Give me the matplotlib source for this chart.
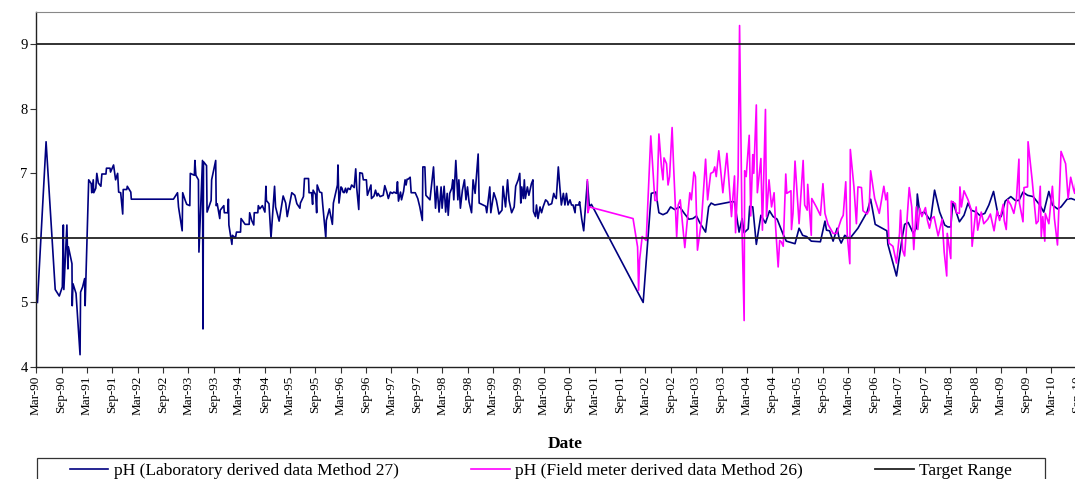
import numpy as np
import matplotlib
matplotlib.use("Agg")
import matplotlib.pyplot as plt
import matplotlib.dates as mdates
from matplotlib.patches import Rectangle
from datetime import datetime, timedelta

plt.rcParams['font.family'] = ['Liberation Serif', 'DejaVu Serif']

# sample dates as decimal years, pH values
lab_years = [
    1990.19, 1990.36, 1990.54, 1990.62, 1990.68, 1990.70, 1990.71, 1990.77, 1990.79, 1990.80,
    1990.87, 1990.875, 1990.89, 1990.95, 1991.03, 1991.04, 1991.08, 1991.12, 1991.13, 1991.20,
    1991.25, 1991.26, 1991.29, 1991.30, 1991.34, 1991.36, 1991.39, 1991.44, 1991.46, 1991.54,
    1991.55, 1991.62, 1991.63, 1991.69, 1991.73, 1991.77, 1991.79, 1991.83, 1991.87, 1991.88,
    1991.95, 1991.96, 1992.03, 1992.04, 1992.87, 1992.95, 1992.97, 1993.04, 1993.05, 1993.10,
    1993.13, 1993.19, 1993.20, 1993.28, 1993.29, 1993.31, 1993.36, 1993.37, 1993.44, 1993.45,
    1993.46, 1993.52, 1993.53, 1993.61, 1993.62, 1993.70, 1993.71, 1993.73, 1993.78, 1993.79,
    1993.86, 1993.87, 1993.94, 1993.95, 1993.96, 1994.02, 1994.03, 1994.09, 1994.11, 1994.19,
    1994.20, 1994.28, 1994.36, 1994.37, 1994.41, 1994.45, 1994.46, 1994.53, 1994.54, 1994.57,
    1994.62, 1994.67, 1994.69, 1994.70, 1994.75, 1994.79, 1994.86, 1994.88, 1994.95, 1995.03,
    1995.08, 1995.11, 1995.20, 1995.26, 1995.30, 1995.36, 1995.37, 1995.43, 1995.45, 1995.53,
    1995.54, 1995.59, 1995.61, 1995.62, 1995.67, 1995.69, 1995.70, 1995.75, 1995.79, 1995.81,
    1995.87, 1995.88, 1995.94, 1996.00, 1996.02, 1996.10, 1996.11, 1996.13, 1996.17, 1996.19,
    1996.21, 1996.23, 1996.26, 1996.28, 1996.31, 1996.35, 1996.38, 1996.43, 1996.46, 1996.48,
    1996.52, 1996.54, 1996.59, 1996.61, 1996.67, 1996.69, 1996.76, 1996.77, 1996.82, 1996.85,
    1996.88, 1996.90, 1996.94, 1997.00, 1997.03, 1997.07, 1997.10, 1997.14, 1997.18, 1997.21,
    1997.26, 1997.28, 1997.30, 1997.34, 1997.36, 1997.40, 1997.43, 1997.45, 1997.47, 1997.49,
    1997.53, 1997.55, 1997.63, 1997.68, 1997.72, 1997.77, 1997.78, 1997.82, 1997.84, 1997.92,
    1997.99, 1998.03, 1998.06, 1998.10, 1998.14, 1998.16, 1998.20, 1998.23, 1998.26, 1998.28,
    1998.31, 1998.35, 1998.37, 1998.39, 1998.43, 1998.47, 1998.49, 1998.52, 1998.56, 1998.60,
    1998.63, 1998.66, 1998.69, 1998.74, 1998.77, 1998.81, 1998.87, 1998.89, 1998.97, 1999.02,
    1999.04, 1999.08, 1999.10, 1999.12, 1999.18, 1999.23, 1999.28, 1999.34, 1999.36, 1999.41,
    1999.45, 1999.48, 1999.53, 1999.58, 1999.61, 1999.66, 1999.69, 1999.71, 1999.73, 1999.76,
    1999.78, 1999.80, 1999.84, 1999.87, 1999.92, 1999.95, 1999.96, 2000.00, 2000.02, 2000.05,
    2000.09, 2000.12, 2000.15, 2000.20, 2000.24, 2000.26, 2000.32, 2000.36, 2000.38, 2000.41,
    2000.45, 2000.48, 2000.51, 2000.55, 2000.58, 2000.61, 2000.64, 2000.68, 2000.71, 2000.74,
    2000.78, 2000.79, 2000.85, 2000.87, 2000.91, 2000.95, 2001.02, 2001.06, 2001.10, 2002.12,
    2002.28, 2002.37, 2002.43, 2002.51, 2002.59, 2002.66, 2002.74, 2002.84, 2002.93, 2003.02,
    2003.10, 2003.17, 2003.24, 2003.35, 2003.41, 2003.46, 2003.53, 2003.86, 2003.92, 2004.01,
    2004.07, 2004.11, 2004.19, 2004.22, 2004.28, 2004.35, 2004.44, 2004.53, 2004.61, 2004.68,
    2004.76, 2004.87, 2004.94, 2005.11, 2005.19, 2005.26, 2005.34, 2005.43, 2005.61, 2005.70,
    2005.73, 2005.79, 2005.86, 2005.94, 2005.98, 2006.02, 2006.09, 2006.19, 2006.35, 2006.53,
    2006.60, 2006.69, 2006.92, 2006.94, 2007.11, 2007.23, 2007.27, 2007.34, 2007.44, 2007.50,
    2007.52, 2007.57, 2007.66, 2007.78, 2007.86, 2007.96, 2008.06, 2008.12, 2008.18, 2008.22,
    2008.35, 2008.44, 2008.52, 2008.58, 2008.68, 2008.75, 2008.85, 2008.93, 2009.02, 2009.11,
    2009.17, 2009.25, 2009.36, 2009.45, 2009.52, 2009.60, 2009.69, 2009.80, 2009.93, 2010.01,
    2010.11, 2010.18, 2010.28, 2010.35, 2010.47, 2010.55, 2010.62, 2010.70,
]
lab_ph = [
    5.00, 7.49, 5.20, 5.10, 5.24, 6.20, 5.20, 6.20, 5.52, 5.86,
    5.60, 4.95, 5.29, 5.14, 4.19, 5.16, 5.24, 5.37, 4.95, 6.90,
    6.84, 6.70, 6.90, 6.70, 6.77, 7.00, 6.85, 6.80, 6.99, 6.99,
    7.08, 7.08, 7.02, 7.13, 6.90, 7.00, 6.71, 6.70, 6.37, 6.75,
    6.75, 6.80, 6.71, 6.60, 6.60, 6.70, 6.48, 6.11, 6.70, 6.58,
    6.52, 6.50, 7.00, 6.97, 7.20, 6.97, 6.90, 5.78, 7.20, 4.59,
    7.18, 7.12, 6.40, 6.58, 6.90, 7.20, 6.50, 6.53, 6.30, 6.43,
    6.50, 6.39, 6.39, 6.60, 6.20, 5.90, 6.04, 6.00, 6.09, 6.09,
    6.30, 6.21, 6.21, 6.39, 6.27, 6.20, 6.39, 6.39, 6.50, 6.45,
    6.50, 6.40, 6.80, 6.58, 6.53, 6.00, 6.80, 6.48, 6.26, 6.65,
    6.54, 6.33, 6.70, 6.66, 6.53, 6.46, 6.54, 6.64, 6.92, 6.92,
    6.70, 6.70, 6.52, 6.74, 6.67, 6.39, 6.82, 6.71, 6.70, 6.51,
    6.00, 6.27, 6.45, 6.21, 6.54, 6.82, 7.13, 6.54, 6.79, 6.77,
    6.71, 6.70, 6.77, 6.70, 6.77, 6.75, 6.82, 6.78, 7.07, 6.77,
    6.44, 7.01, 7.00, 6.90, 6.90, 6.66, 6.82, 6.61, 6.65, 6.74,
    6.65, 6.69, 6.64, 6.66, 6.81, 6.71, 6.61, 6.71, 6.69, 6.71,
    6.69, 6.87, 6.57, 6.71, 6.59, 6.72, 6.90, 6.82, 6.91, 6.91,
    6.94, 6.70, 6.70, 6.61, 6.48, 6.27, 7.10, 7.10, 6.66, 6.59,
    7.10, 6.46, 6.80, 6.40, 6.79, 6.46, 6.80, 6.40, 6.69, 6.35,
    6.69, 6.77, 6.90, 6.59, 7.20, 6.59, 6.90, 6.46, 6.74, 6.90,
    6.59, 6.79, 6.56, 6.39, 6.90, 6.69, 7.30, 6.54, 6.51, 6.49,
    6.39, 6.66, 6.79, 6.39, 6.70, 6.58, 6.37, 6.43, 6.80, 6.48,
    6.90, 6.58, 6.39, 6.48, 6.80, 6.90, 7.00, 6.54, 6.79, 6.61,
    6.90, 6.61, 6.79, 6.66, 6.84, 6.90, 6.41, 6.33, 6.51, 6.30,
    6.48, 6.39, 6.48, 6.59, 6.56, 6.51, 6.53, 6.69, 6.64, 6.61,
    7.10, 6.79, 6.51, 6.69, 6.51, 6.69, 6.51, 6.59, 6.51, 6.51,
    6.39, 6.51, 6.51, 6.56, 6.30, 6.11, 6.88, 6.48, 6.52, 5.00,
    6.69, 6.71, 6.39, 6.36, 6.39, 6.48, 6.44, 6.48, 6.38, 6.29,
    6.30, 6.34, 6.23, 6.09, 6.48, 6.54, 6.51, 6.56, 6.56, 6.09,
    6.30, 6.08, 6.14, 6.49, 6.48, 5.90, 6.35, 6.23, 6.42, 6.33,
    6.29, 6.07, 5.95, 5.91, 6.15, 6.04, 6.02, 5.95, 5.94, 6.26,
    6.12, 6.11, 5.95, 6.15, 5.99, 5.92, 6.04, 5.99, 6.15, 6.40,
    6.60, 6.21, 6.11, 5.90, 5.41, 6.04, 6.21, 6.24, 6.07, 6.15,
    6.68, 6.38, 6.40, 6.27, 6.74, 6.40, 6.20, 6.17, 6.17, 6.56,
    6.25, 6.35, 6.54, 6.43, 6.40, 6.35, 6.38, 6.51, 6.72, 6.35,
    6.33, 6.57, 6.64, 6.58, 6.58, 6.71, 6.66, 6.64, 6.51, 6.40,
    6.72, 6.51, 6.45, 6.48, 6.60, 6.61, 6.59, 6.60,
]

field_years = [
    2001.02, 2001.03, 2001.06, 2001.92, 2002.01, 2002.03, 2002.05, 2002.10, 2002.18, 2002.27,
    2002.35, 2002.39, 2002.43, 2002.48, 2002.51, 2002.53, 2002.58, 2002.61, 2002.64, 2002.69,
    2002.72, 2002.78, 2002.81, 2002.85, 2002.94, 2003.04, 2003.07, 2003.12, 2003.15, 2003.19,
    2003.27, 2003.35, 2003.39, 2003.45, 2003.50, 2003.53, 2003.56, 2003.61, 2003.69, 2003.77,
    2003.86, 2003.92, 2003.94, 2003.99, 2004.02, 2004.07, 2004.11, 2004.12, 2004.15, 2004.21,
    2004.24, 2004.28, 2004.30, 2004.35, 2004.37, 2004.44, 2004.47, 2004.53, 2004.55, 2004.60,
    2004.65, 2004.70, 2004.73, 2004.78, 2004.81, 2004.84, 2004.88, 2004.93, 2004.95, 2005.03,
    2005.04, 2005.07, 2005.11, 2005.19, 2005.27, 2005.30, 2005.35, 2005.36, 2005.43, 2005.44,
    2005.53, 2005.61, 2005.66, 2005.70, 2005.76, 2005.86, 2005.93, 2006.02, 2006.06, 2006.11,
    2006.14, 2006.19, 2006.20, 2006.27, 2006.32, 2006.35, 2006.42, 2006.45, 2006.53, 2006.57,
    2006.60, 2006.68, 2006.77, 2006.86, 2006.90, 2006.93, 2006.96, 2007.04, 2007.11, 2007.17,
    2007.19, 2007.23, 2007.27, 2007.36, 2007.41, 2007.45, 2007.50, 2007.53, 2007.57, 2007.61,
    2007.68, 2007.72, 2007.76, 2007.80, 2007.85, 2007.93, 2008.01, 2008.05, 2008.10, 2008.11,
    2008.18, 2008.19, 2008.27, 2008.29, 2008.35, 2008.36, 2008.39, 2008.44, 2008.52, 2008.58,
    2008.60, 2008.68, 2008.71, 2008.78, 2008.83, 2008.91, 2008.96, 2009.03, 2009.09, 2009.14,
    2009.17, 2009.21, 2009.23, 2009.27, 2009.30, 2009.36, 2009.42, 2009.47, 2009.52, 2009.53,
    2009.60, 2009.62, 2009.69, 2009.70, 2009.78, 2009.86, 2009.90, 2009.94, 2009.96, 2009.99,
    2010.03, 2010.04, 2010.11, 2010.18, 2010.22, 2010.28, 2010.35, 2010.44, 2010.49, 2010.54,
    2010.60, 2010.62, 2010.66,
]
field_ph = [
    6.90, 6.39, 6.48, 6.30, 5.86, 5.19, 5.66, 6.02, 5.96, 7.58,
    6.58, 6.58, 7.61, 7.10, 6.90, 7.24, 7.15, 6.82, 6.95, 7.71,
    7.10, 6.02, 6.51, 6.59, 5.85, 6.70, 6.59, 7.02, 6.95, 5.81,
    6.27, 7.22, 6.59, 7.00, 7.02, 7.10, 6.95, 7.35, 6.70, 7.31,
    6.33, 6.96, 6.08, 6.95, 9.29, 6.07, 4.72, 7.04, 6.95, 7.59,
    6.34, 7.29, 7.00, 8.06, 6.70, 7.23, 6.12, 7.99, 6.33, 6.90,
    6.48, 6.70, 6.17, 5.55, 5.96, 5.94, 5.87, 6.99, 6.69, 6.73,
    6.13, 6.38, 7.19, 6.22, 7.20, 6.51, 6.43, 6.83, 6.04, 6.61,
    6.48, 6.35, 6.84, 6.38, 6.21, 6.07, 6.07, 6.29, 6.35, 6.87,
    6.04, 5.60, 7.37, 6.80, 6.22, 6.79, 6.78, 6.42, 6.37, 6.43,
    7.04, 6.61, 6.38, 6.80, 6.59, 6.70, 5.92, 5.87, 5.61, 6.07,
    6.43, 5.81, 5.72, 6.78, 6.48, 5.82, 6.48, 6.13, 6.46, 6.33,
    6.47, 6.27, 6.15, 6.30, 6.33, 6.03, 6.29, 5.78, 5.41, 6.07,
    5.68, 6.57, 6.53, 6.39, 6.38, 6.79, 6.48, 6.73, 6.59, 6.44,
    5.87, 6.48, 6.12, 6.40, 6.22, 6.29, 6.37, 6.11, 6.42, 6.27,
    6.38, 6.52, 6.27, 6.13, 6.59, 6.51, 6.38, 6.59, 7.22, 6.54,
    6.25, 6.78, 6.79, 7.49, 6.90, 6.22, 6.26, 6.80, 6.02, 6.33,
    5.95, 6.38, 6.22, 6.80, 6.30, 5.89, 7.34, 7.15, 6.61, 6.94,
    6.74, 6.69, 7.00,
]

target_low = 6
target_high = 9


def to_dates(years):
    out = []
    for y in years:
        yi = int(y)
        out.append(datetime(yi, 1, 1) + timedelta(days=(y - yi) * 365.25))
    return out


fig = plt.figure(figsize=(10.75, 4.79), dpi=100)
W, H = 1075.0, 479.0
ax = fig.add_axes([36 / W, 1 - 367 / H, (1094 - 36) / W, 355 / H])

ax.plot(to_dates(lab_years), lab_ph, color='#000080', lw=1.2,
        label='pH (Laboratory derived data Method 27)')
ax.plot(to_dates(field_years), field_ph, color='#FF00FF', lw=1.2,
        label='pH (Field meter derived data Method 26)')
ax.axhline(target_low, color='#222222', lw=1.3, label='Target Range')
ax.axhline(target_high, color='#222222', lw=1.3)

ax.set_xlim(datetime(1990, 3, 1), datetime(2011, 1, 1))
ax.set_ylim(4, 9.5)
ax.set_yticks([4, 5, 6, 7, 8, 9])

# Sep-10 runs off the right edge, as in the original
ax.xaxis.set_major_locator(mdates.MonthLocator(bymonth=[3, 9], bymonthday=1))
ax.xaxis.set_major_formatter(mdates.DateFormatter('%b-%y'))
plt.setp(ax.get_xticklabels(), rotation=90, fontsize=9.5)
plt.setp(ax.get_yticklabels(), fontsize=10.5)
ax.tick_params(axis='both', direction='out', length=4, width=0.8, color='#333333', pad=2)

for side in ['left', 'bottom']:
    ax.spines[side].set_color('#222222')
    ax.spines[side].set_linewidth(1.0)
ax.spines['top'].set_color('#888888')
ax.spines['right'].set_visible(False)

ax.set_xlabel('Date', fontsize=12.5, fontweight='bold', labelpad=15)

# legend frame runs off the bottom of the picture
fig.patches.append(Rectangle((37 / W, -0.05), (1045 - 37) / W, 0.05 + (479 - 458) / H,
                             transform=fig.transFigure, fill=False, edgecolor='#333333', lw=0.9))
fig.legend(loc='center', bbox_to_anchor=(541 / W, 1 - 471 / H), ncol=3, frameon=False,
           fontsize=12.5, handlelength=2.2, columnspacing=4.2, handletextpad=0.3)

fig.savefig('out.png', dpi=100)
